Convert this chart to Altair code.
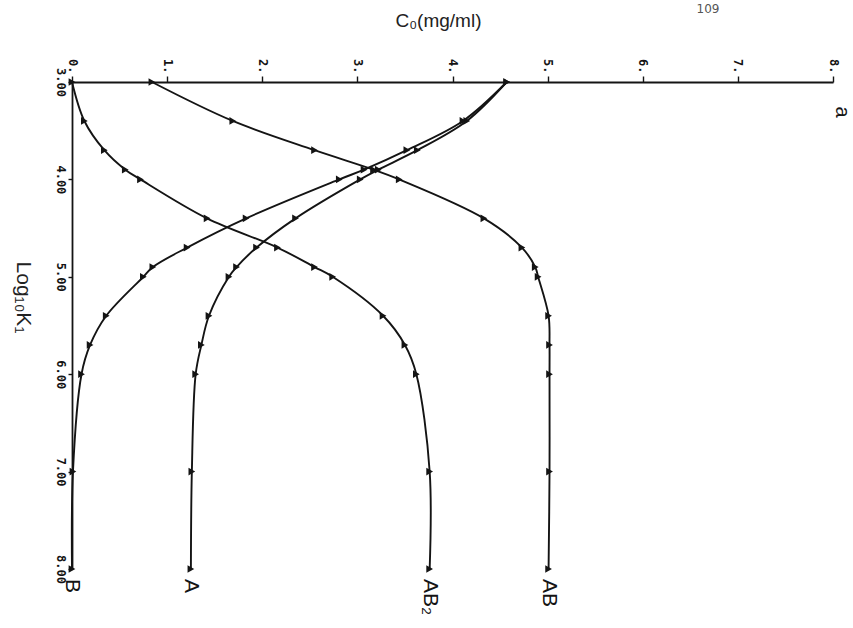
import altair as alt
import pandas as pd

# Log10 K1 levels at which the concentrations were computed
log_k = [3.0, 3.4, 3.7, 3.9, 4.0, 4.4, 4.7, 4.9, 5.0, 5.4, 5.7, 6.0, 7.0, 8.0]

# Equilibrium concentrations C0 (mg/ml) of each species
conc_a = [4.57, 4.15, 3.63, 3.22, 3.03, 2.35, 1.94, 1.73, 1.65, 1.44, 1.36, 1.30, 1.26, 1.25]
conc_b = [4.57, 4.11, 3.52, 3.07, 2.81, 1.83, 1.21, 0.85, 0.75, 0.36, 0.19, 0.10, 0.01, 0.00]
conc_ab = [0.84, 1.69, 2.55, 3.17, 3.44, 4.33, 4.73, 4.87, 4.90, 5.01, 5.02, 5.02, 5.02, 5.01]
conc_ab2 = [0.00, 0.13, 0.34, 0.56, 0.72, 1.42, 2.16, 2.55, 2.74, 3.27, 3.50, 3.62, 3.76, 3.76]

species = ["A", "B", "AB", "AB₂"]
c0_ticks = [0, 1, 2, 3, 4, 5, 6, 7, 8]
logk_ticks = [3, 4, 5, 6, 7, 8]

rows = []
for name, vals in zip(species, [conc_a, conc_b, conc_ab, conc_ab2]):
    for k, c in zip(log_k, vals):
        rows.append({"species": name, "logk": k, "c0": c})
df = pd.DataFrame(rows)
ends = df[df["logk"] == max(log_k)]

INK = "#141414"
PLOT_W, PLOT_H = 761, 487
PAD_L, PAD_T = 72, 82

x_enc = alt.X(
    "c0:Q",
    scale=alt.Scale(domain=[0, 8], nice=False, zero=False),
    axis=alt.Axis(
        orient="top", values=c0_ticks, labelExpr="datum.value + '.'",
        labelAngle=90, labelAlign="right", labelBaseline="middle",
        labelFont="DejaVu Sans Mono", labelFontSize=12, labelFontWeight="bold",
        labelColor=INK, labelPadding=3,
        tickSize=6, tickColor=INK, tickWidth=1.4,
        domainColor=INK, domainWidth=1.8, grid=False,
        title="C₀(mg/ml)", titleFont="Liberation Sans", titleFontSize=19,
        titleFontWeight="normal", titleColor="#222",
        titleX=366, titleY=-62, titleAlign="center", titleBaseline="middle",
        titleAngle=0,
    ),
)

y_enc = alt.Y(
    "logk:Q",
    scale=alt.Scale(domain=[3, 8], nice=False, zero=False, reverse=True),
    axis=alt.Axis(
        orient="left", values=logk_ticks, format=".2f",
        labelAngle=90, labelAlign="center", labelBaseline="top",
        labelFont="DejaVu Sans Mono", labelFontSize=12, labelFontWeight="bold",
        labelColor=INK, labelPadding=3,
        tickSize=4, tickColor=INK, tickWidth=1.4,
        domainColor=INK, domainWidth=1.8, grid=False,
        title="Log₁₀K₁", titleFont="Liberation Sans", titleFontSize=21,
        titleFontWeight="normal", titleColor="#222",
        titleX=-50, titleY=215, titleAngle=90, titleAlign="center",
        titleBaseline="middle",
    ),
)

curves = alt.Chart(df).mark_line(
    interpolate="catmull-rom", color=INK, strokeWidth=1.9
).encode(x=x_enc, y=y_enc, detail="species:N", order=alt.Order("logk:Q"))

markers = alt.Chart(df).mark_point(
    shape="triangle-right", filled=True, color=INK, size=60, opacity=1
).encode(x="c0:Q", y="logk:Q")

curve_labels = alt.Chart(ends).mark_text(
    angle=90, align="left", baseline="middle", dx=10,
    font="Liberation Sans", fontSize=21, color=INK
).encode(x="c0:Q", y="logk:Q", text="species:N")

panel_tag = alt.Chart(pd.DataFrame({"t": ["a"]})).mark_text(
    angle=90, align="center", baseline="middle",
    font="Liberation Sans", fontSize=20, color=INK
).encode(x=alt.value(770), y=alt.value(30), text="t:N")

page_no = alt.Chart(pd.DataFrame({"t": ["109"]})).mark_text(
    align="center", baseline="middle",
    font="DejaVu Sans", fontSize=12, color="#555"
).encode(x=alt.value(636), y=alt.value(-73), text="t:N")

chart = (
    alt.layer(curves, markers, curve_labels, panel_tag, page_no)
    .properties(
        width=PLOT_W, height=PLOT_H,
        autosize=alt.AutoSizeParams(type="none"),
        padding={"left": PAD_L, "top": PAD_T,
                 "right": 853 - PAD_L - PLOT_W, "bottom": 628 - PAD_T - PLOT_H},
        background="white",
    )
    .configure_view(stroke=None)
)

chart.save("out.html", embed_options={"renderer": "svg", "actions": False})
